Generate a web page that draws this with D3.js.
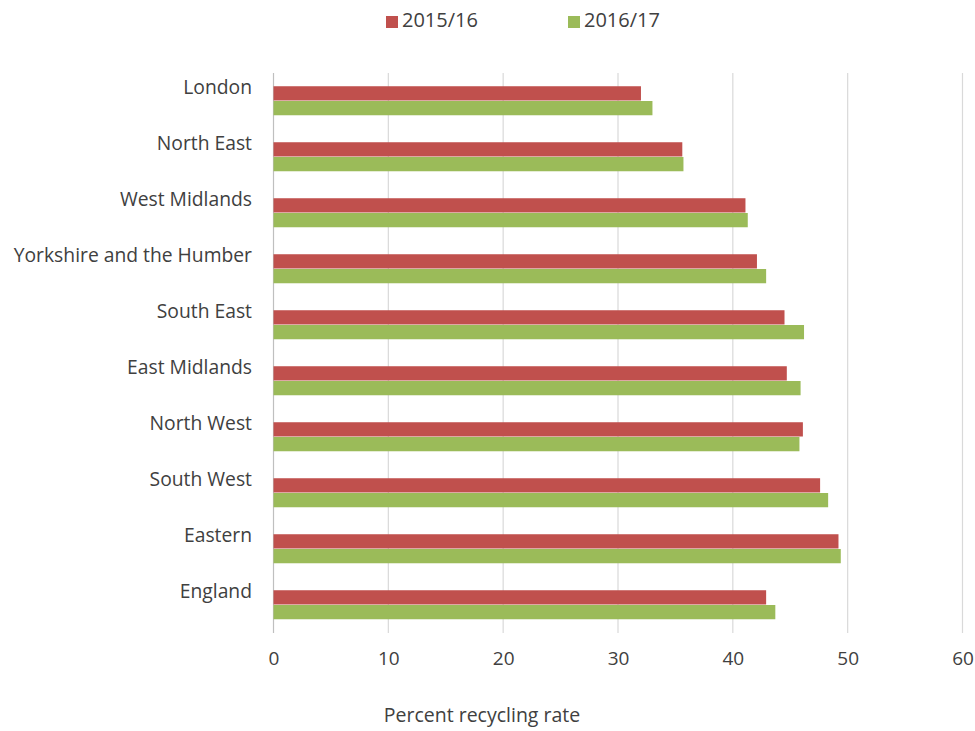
<!DOCTYPE html>
<html><head><meta charset="utf-8">
<script src="https://cdn.jsdelivr.net/npm/d3@7"></script>
<style>body{margin:0;background:#fff}svg{display:block}text{font-family:"Open Sans",sans-serif;fill:#404040}</style>
</head><body><svg id="c" width="975" height="731"></svg>
<script>
const categories = ["London","North East","West Midlands","Yorkshire and the Humber","South East","East Midlands","North West","South West","Eastern","England"];
const series = ["2015/16","2016/17"];
const values2015 = [32.0,35.6,41.1,42.1,44.5,44.7,46.1,47.6,49.2,42.9];
const values2016 = [33.0,35.7,41.3,42.9,46.2,45.9,45.8,48.3,49.4,43.7];
const xTicks = [0,10,20,30,40,50,60];
const colors = ["#C0504D","#9BBB59"];
const axisTitle = "Percent recycling rate";

const svg = d3.select("#c");
const m = {left:273.5, right:962.5, top:73, bottom:633};
const x = d3.scaleLinear().domain([0,60]).range([m.left, m.right]);
const y = d3.scaleBand().domain(categories).range([m.top, m.bottom]).paddingInner(0.473).paddingOuter(0.2365);
const ys = d3.scaleBand().domain(series).range([0, y.bandwidth()]);

// gridlines
svg.append("g").selectAll("line").data(xTicks).join("line")
  .attr("x1", d=>x(d)).attr("x2", d=>x(d)).attr("y1", m.top).attr("y2", m.bottom)
  .attr("stroke", d=> d===0 ? "#bfbfbf" : "#d9d9d9").attr("stroke-width",1.2);

// bars
const data = categories.map((c,i)=>({c, v:[values2015[i], values2016[i]]}));
const g = svg.append("g");
data.forEach(d=>{
  series.forEach((s,j)=>{
    g.append("rect").attr("x", x(0)).attr("y", y(d.c)+ys(s))
      .attr("width", x(d.v[j])-x(0)).attr("height", ys.bandwidth()-0.5)
      .attr("fill", colors[j]);
  });
});

// x tick labels
const xa = d3.axisBottom(x).tickValues(xTicks).tickSize(0).tickPadding(0);
const xg = svg.append("g").attr("transform",`translate(0,${m.bottom+18})`).call(xa);
xg.select(".domain").remove();
xg.selectAll("text").attr("font-size",19).attr("fill","#404040").attr("font-family","Open Sans");

// category labels
const ya = d3.axisLeft(y).tickSize(0).tickPadding(0);
const yg = svg.append("g").attr("transform",`translate(252,-13)`).call(ya);
yg.select(".domain").remove();
yg.selectAll("text").attr("font-size",19.3).attr("fill","#404040").attr("font-family","Open Sans");

// axis title
svg.append("text").attr("x",482).attr("y",717).attr("text-anchor","middle").attr("dominant-baseline","middle")
  .attr("font-size",19.5).text(axisTitle);

// legend
const legX = [386,568];
series.forEach((s,j)=>{
  svg.append("rect").attr("x",legX[j]).attr("y",16).attr("width",12).attr("height",12).attr("fill",colors[j]);
  svg.append("text").attr("x",legX[j]+16).attr("y",22).attr("dominant-baseline","middle").attr("font-size",20).text(s);
});
</script></body></html>
